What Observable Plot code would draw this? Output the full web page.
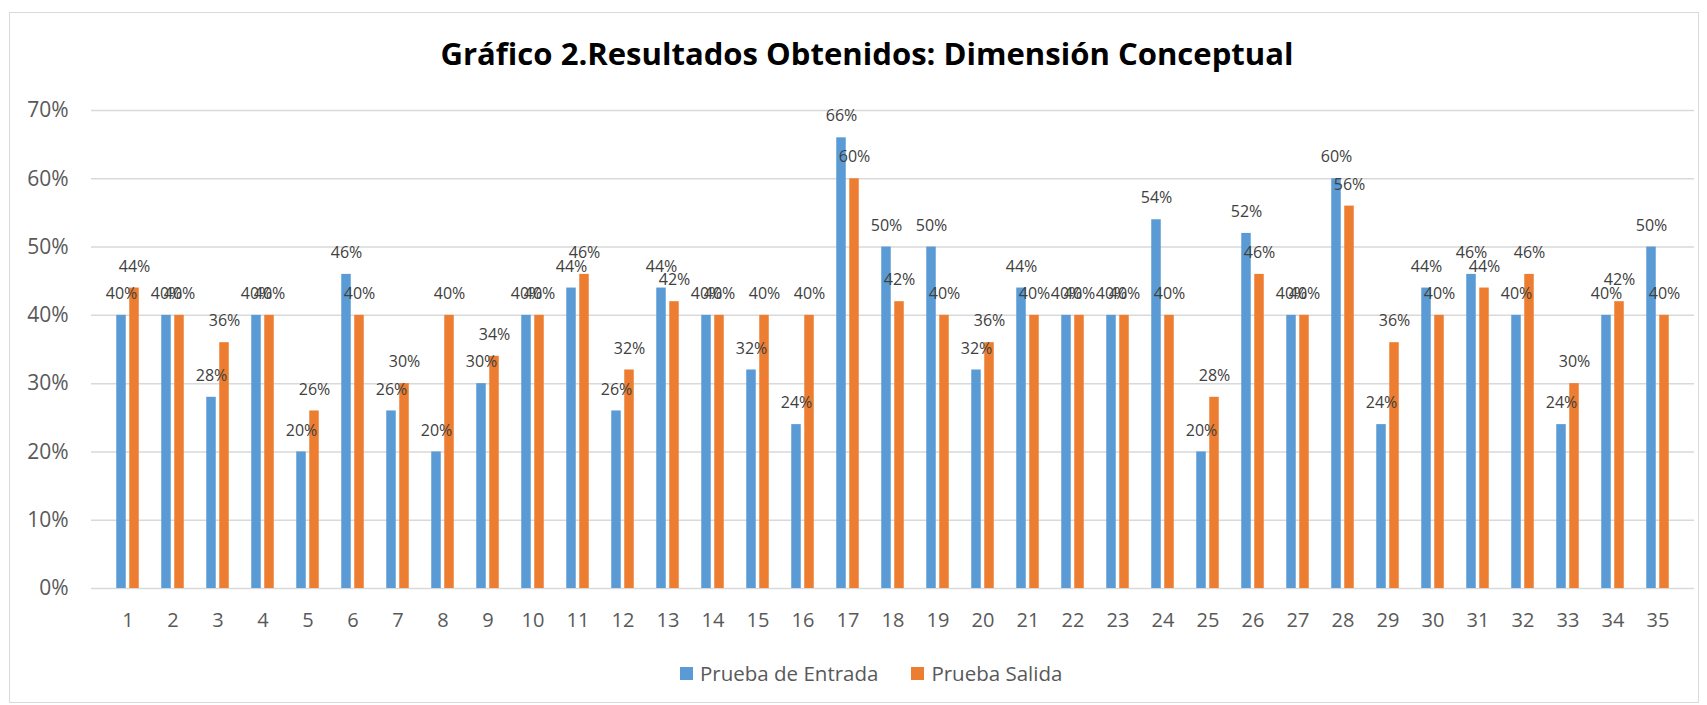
<!DOCTYPE html>
<html><head><meta charset="utf-8">
<script src="https://cdn.jsdelivr.net/npm/d3@7"></script>
<script src="https://cdn.jsdelivr.net/npm/@observablehq/plot@0.6"></script>
<style>
body{margin:0;background:#fff;width:1707px;height:705px;position:relative;overflow:hidden;font-family:"Open Sans",sans-serif;}
#frame{position:absolute;left:9px;top:12px;width:1690px;height:691px;border:1px solid #d9d9d9;box-sizing:border-box;}
#titlewrap{position:absolute;left:0;width:1707px;top:39px;height:30px;}
#title{position:absolute;left:866.5px;top:0;font-weight:700;font-size:30px;line-height:30px;color:#000;white-space:nowrap;transform-origin:0 50%;}
#chart{position:absolute;left:0;top:90px;}
#legend{position:absolute;top:659px;left:680px;display:flex;align-items:center;font-size:20.5px;line-height:28px;color:#595959;white-space:nowrap;}
#legend .sw{display:inline-block;width:13px;height:13px;margin-right:7px;}
#legend .item{display:flex;align-items:center;margin-right:33px;}
</style></head>
<body>
<div id="frame"></div>
<div id="titlewrap"><span id="title">Gráfico 2.Resultados Obtenidos: Dimensión Conceptual</span></div>
<div id="chart"></div>
<div id="legend"></div>
<script>
const categories = ["1","2","3","4","5","6","7","8","9","10","11","12","13","14","15","16","17","18","19","20","21","22","23","24","25","26","27","28","29","30","31","32","33","34","35"];
const entrada = [0.40,0.40,0.28,0.40,0.20,0.46,0.26,0.20,0.30,0.40,0.44,0.26,0.44,0.40,0.32,0.24,0.66,0.50,0.50,0.32,0.44,0.40,0.40,0.54,0.20,0.52,0.40,0.60,0.24,0.44,0.46,0.40,0.24,0.40,0.50];
const salida  = [0.44,0.40,0.36,0.40,0.26,0.40,0.30,0.40,0.34,0.40,0.46,0.32,0.42,0.40,0.40,0.40,0.60,0.42,0.40,0.36,0.40,0.40,0.40,0.40,0.28,0.46,0.40,0.56,0.36,0.40,0.44,0.46,0.30,0.42,0.40];
const yTicks = [0,0.1,0.2,0.3,0.4,0.5,0.6,0.7];
const seriesNames = ["Prueba de Entrada","Prueba Salida"];
const seriesColors = ["#5b9bd5","#ed7d31"];

const rows = categories.map((c,i)=>({cat:c, entrada:entrada[i], salida:salida[i]}));
const fmt = d3.format(".0%");

const W = 1707, H = 560, mL = 91, mR = 13, mT = 20, mB = 62;
const band = (W - mL - mR) / categories.length;
const barW = 10.3, gap = 2.7;
const blueL = band/2 - gap/2 - barW, blueR = band/2 + gap/2;
const orgL = band/2 + gap/2, orgR = band/2 - gap/2 - barW;
const off = gap/2 + barW/2;

const chart = Plot.plot({
  width: W, height: H,
  marginLeft: mL, marginRight: mR, marginTop: mT, marginBottom: mB,
  style: {fontFamily: '"Open Sans", sans-serif', fontSize: "20px", color: "#595959", background: "transparent"},
  x: {type: "band", domain: categories, padding: 0, label: null},
  y: {domain: [0, 0.7], label: null},
  marks: [
    Plot.ruleY(yTicks, {stroke: "#d9d9d9", strokeWidth: 1.5}),
    Plot.axisY(yTicks, {tickSize: 0, tickPadding: 23, tickFormat: fmt, fontSize: 21, fill: "#595959", label: null}),
    Plot.axisX({tickSize: 0, tickPadding: 24, fontSize: 20, fill: "#595959", label: null}),
    Plot.barY(rows, {x: "cat", y: "entrada", fill: seriesColors[0], insetLeft: blueL, insetRight: blueR}),
    Plot.barY(rows, {x: "cat", y: "salida", fill: seriesColors[1], insetLeft: orgL, insetRight: orgR}),
    Plot.text(rows, {x: "cat", y: "entrada", text: d => fmt(d.entrada), dx: -off, dy: -21.5, fontSize: 16, fill: "#404040", lineAnchor: "middle"}),
    Plot.text(rows, {x: "cat", y: "salida", text: d => fmt(d.salida), dx: off, dy: -21.5, fontSize: 16, fill: "#404040", lineAnchor: "middle"})
  ]
});
document.getElementById("chart").appendChild(chart);

// fit title width to the reference's measured span
const t = document.getElementById("title");
const tw = t.getBoundingClientRect().width;
const targetW = 853;
t.style.transform = `translateX(${-targetW/2}px) scaleX(${targetW/tw})`;

const lg = document.getElementById("legend");
seriesNames.forEach((n,i)=>{
  const it = document.createElement("span"); it.className = "item";
  const sw = document.createElement("span"); sw.className = "sw"; sw.style.background = seriesColors[i];
  it.appendChild(sw); it.appendChild(document.createTextNode(n));
  lg.appendChild(it);
});
</script>
</body></html>
